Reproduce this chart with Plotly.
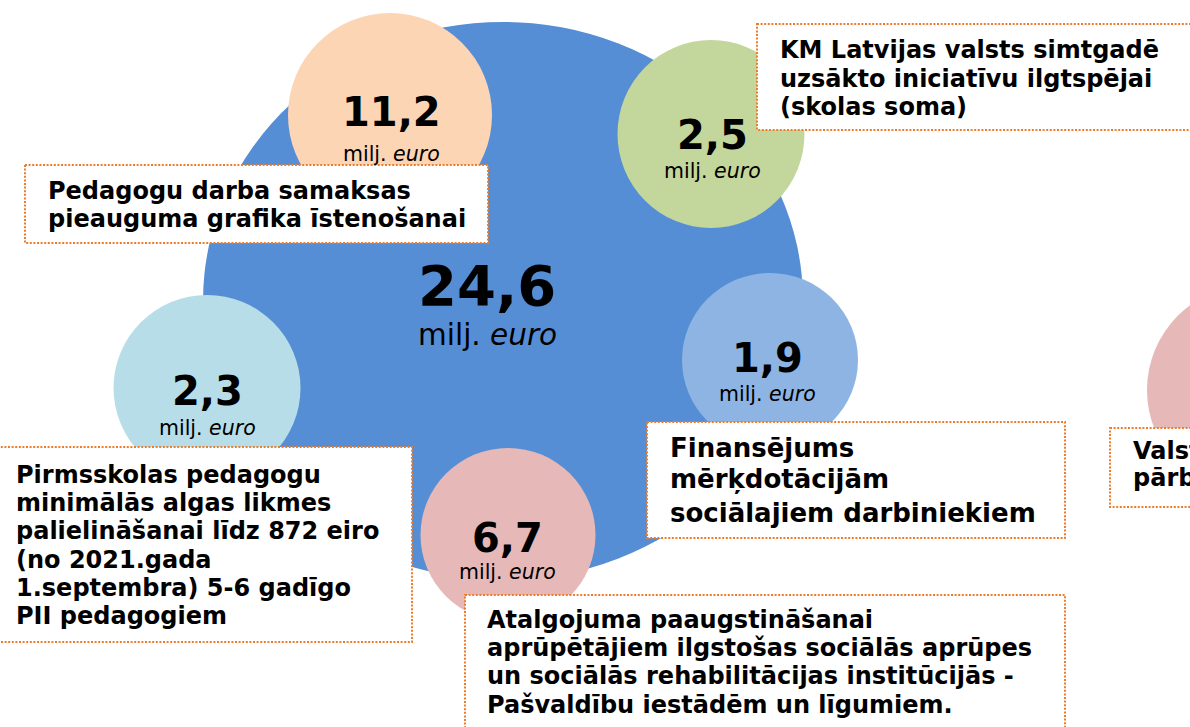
import plotly.graph_objects as go

# ---------------- data ----------------
values = [24.6, 11.2, 2.5, 1.9, 2.3, 6.7]
unit_text = "milj. <i>euro</i>"
box_lines = [
    ["Pedagogu darba samaksas", "pieauguma grafika īstenošanai"],
    ["KM Latvijas valsts simtgadē", "uzsākto iniciatīvu ilgtspējai", "(skolas soma)"],
    ["Pirmsskolas pedagogu", "minimālās algas likmes", "palielināšanai līdz 872 eiro",
     "(no 2021.gada", "1.septembra) 5-6 gadīgo", "PII pedagogiem"],
    ["Finansējums", "mērķdotācijām", "sociālajiem darbiniekiem"],
    ["Atalgojuma paaugstināšanai", "aprūpētājiem ilgstošas sociālās aprūpes",
     "un sociālās rehabilitācijas institūcijās -", "Pašvaldību iestādēm un līgumiem."],
    ["Valsts", "pārbaudes"],
]

# ---------------- layout (pixel space) ----------------
W, H = 1190, 727
FONT = "DejaVu Sans"

# circles: cx, cy, rx, ry, colour
circ_cx = [503, 390, 711, 770, 207, 508, 1252]
circ_cy = [301, 115, 134, 360, 388, 535, 390]
circ_rx = [300, 102, 93.5, 88, 93.5, 87.5, 105]
circ_ry = [279, 102, 94, 87, 93, 87, 105]
circ_col = ["#558ED5", "#FCD5B5", "#C3D69B", "#8EB4E3", "#B7DEE8", "#E6B9B8", "#E6B9B8"]

# value labels: centre x, number baseline, unit baseline, sizes
lab_x = [487, 391, 712, 767, 207, 507]
lab_num_base = [303, 124, 147, 370, 403, 550]
lab_unit_base = [344, 160, 177, 400, 434, 578]
lab_num_size = [56, 40, 40, 40, 40, 40]
lab_unit_size = [29.5, 20.5, 20.5, 20.5, 20.5, 20.5]

# text boxes
box_rect = [(25, 165, 488, 243), (757, 24, 1260, 130), (-10, 447, 412, 642),
            (647, 422, 1065, 538), (465, 595, 1065, 760), (1110, 428, 1260, 507)]
box_text_x = [46, 778, 14, 668, 485, 1131]
box_base = [[198, 226], [57, 86, 114], [482, 510, 538, 567, 595, 623],
            [456, 487, 521], [627, 655, 683, 712], [458, 485]]
box_size = [24, 24, 24, 26, 24, 24]
BORDER = "#EE7D2B"


def center_from_baseline(base, size):
    return base - 0.31 * size


fig = go.Figure()
fig.add_trace(go.Scatter(x=[0, W], y=[0, H], mode="markers",
                         marker=dict(opacity=0), hoverinfo="skip", showlegend=False))

shapes = []
for cx, cy, rx, ry, col in zip(circ_cx, circ_cy, circ_rx, circ_ry, circ_col):
    shapes.append(dict(type="circle", xref="x", yref="y",
                       x0=cx - rx, x1=cx + rx, y0=cy - ry, y1=cy + ry,
                       fillcolor=col, line=dict(width=0), layer="above"))
for (x0, y0, x1, y1) in box_rect:
    shapes.append(dict(type="rect", xref="x", yref="y", x0=x0, x1=x1, y0=y0, y1=y1,
                       fillcolor="white",
                       line=dict(color=BORDER, width=2, dash="2px,1.6px"),
                       layer="above"))

annotations = []
for v, x, nb, ub, ns, us in zip(values, lab_x, lab_num_base, lab_unit_base,
                                lab_num_size, lab_unit_size):
    txt = f"{v:.1f}".replace(".", ",")
    annotations.append(dict(x=x, y=center_from_baseline(nb, ns), xref="x", yref="y",
                            text=f"<b>{txt}</b>", showarrow=False,
                            xanchor="center", yanchor="middle",
                            font=dict(family=FONT, size=ns, color="black")))
    annotations.append(dict(x=x, y=center_from_baseline(ub, us), xref="x", yref="y",
                            text=unit_text, showarrow=False,
                            xanchor="center", yanchor="middle",
                            font=dict(family=FONT, size=us, color="black")))

for lines, tx, bases, fs in zip(box_lines, box_text_x, box_base, box_size):
    for line, b in zip(lines, bases):
        annotations.append(dict(x=tx, y=center_from_baseline(b, fs), xref="x", yref="y",
                                text=f"<b>{line}</b>", showarrow=False,
                                xanchor="left", yanchor="middle", align="left",
                                font=dict(family=FONT, size=fs, color="black")))

fig.update_layout(
    width=W, height=H,
    margin=dict(l=0, r=0, t=0, b=0),
    paper_bgcolor="white", plot_bgcolor="white",
    xaxis=dict(range=[0, W], visible=False, fixedrange=True),
    yaxis=dict(range=[H, 0], visible=False, fixedrange=True),
    shapes=shapes, annotations=annotations, showlegend=False,
)

fig.write_html("out.html", config={"displayModeBar": False},
               post_script="document.body.style.margin='0';document.body.style.overflow='hidden';")
